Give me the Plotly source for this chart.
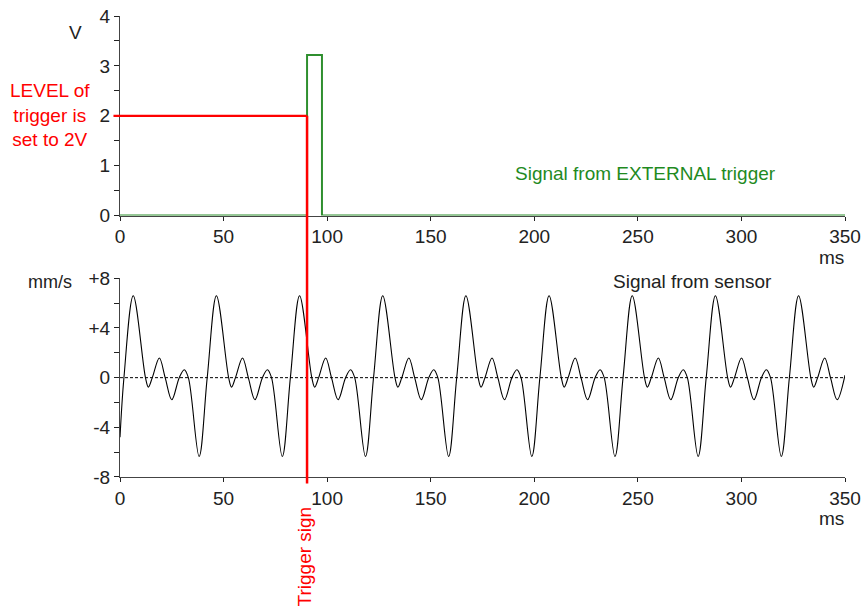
import plotly.graph_objects as go

# ---------------- data ----------------
# External trigger signal (V) vs time (ms)
trigger_t = [0, 90.3, 90.3, 97.5, 97.5, 350]
trigger_v = [0, 0, 3.22, 3.22, 0, 0]

trigger_level = 2.0      # V
trigger_time = 90.3      # ms

# Sensor signal (mm/s) vs time (ms): read extrema and zero crossings
sensor_t = [
    0, 1.9, 6.4, 12.3, 13.7, 15.6, 19.0, 21.8, 25.0, 28.6, 31.0, 33.0, 38.2, 42.1,
    46.55, 52.45, 53.85, 55.75, 59.15, 61.95, 65.15, 68.75, 71.15, 73.15, 78.35, 82.25,
    86.7, 92.6, 94.0, 95.9, 99.3, 102.1, 105.3, 108.9, 111.3, 113.3, 118.5, 122.4,
    126.85, 132.75, 134.15, 136.05, 139.45, 142.25, 145.45, 149.05, 151.45, 153.45, 158.65, 162.55,
    167.0, 172.9, 174.3, 176.2, 179.6, 182.4, 185.6, 189.2, 191.6, 193.6, 198.8, 202.7,
    207.15, 213.05, 214.45, 216.35, 219.75, 222.55, 225.75, 229.35, 231.75, 233.75, 238.95, 242.85,
    247.3, 253.2, 254.6, 256.5, 259.9, 262.7, 265.9, 269.5, 271.9, 273.9, 279.1, 283.0,
    287.45, 293.35, 294.75, 296.65, 300.05, 302.85, 306.05, 309.65, 312.05, 314.05, 319.25, 323.15,
    327.6, 333.5, 334.9, 336.8, 340.2, 343.0, 346.2, 350.0,
]
sensor_v = [
    -4.8, 0, 6.6, 0, -0.76, 0, 1.58, 0, -1.78, 0, 0.64, 0, -6.35, 0,
    6.6, 0, -0.76, 0, 1.58, 0, -1.78, 0, 0.64, 0, -6.35, 0,
    6.6, 0, -0.76, 0, 1.58, 0, -1.78, 0, 0.64, 0, -6.35, 0,
    6.6, 0, -0.76, 0, 1.58, 0, -1.78, 0, 0.64, 0, -6.35, 0,
    6.6, 0, -0.76, 0, 1.58, 0, -1.78, 0, 0.64, 0, -6.35, 0,
    6.6, 0, -0.76, 0, 1.58, 0, -1.78, 0, 0.64, 0, -6.35, 0,
    6.6, 0, -0.76, 0, 1.58, 0, -1.78, 0, 0.64, 0, -6.35, 0,
    6.6, 0, -0.76, 0, 1.58, 0, -1.78, 0, 0.64, 0, -6.35, 0,
    6.6, 0, -0.76, 0, 1.58, 0, -1.78, 0.2,
]

x_ticks = [0, 50, 100, 150, 200, 250, 300, 350]
v_ticks = [0, 1, 2, 3, 4]
s_ticks = [-8, -4, 0, 4, 8]
s_ticktext = ["-8", "-4", "0", "+4", "+8"]

# ---------------- layout constants ----------------
X_RANGE = [0, 350]
V_RANGE = [0, 4]
S_RANGE = [-8, 8]
TOP_DOM = [0.567, 1.0]
BOT_DOM = [0.0, 0.431]

FONT = "Liberation Sans, Arial, sans-serif"
RED = "#ff0000"
GREEN = "#2f8f2f"
FS = 19

fig = go.Figure()

fig.add_trace(go.Scatter(
    x=trigger_t, y=trigger_v, mode="lines",
    line=dict(color=GREEN, width=2),
    xaxis="x", yaxis="y", showlegend=False, hoverinfo="skip",
))

fig.add_trace(go.Scatter(
    x=[X_RANGE[0], X_RANGE[1]], y=[0, 0], mode="lines",
    line=dict(color="black", width=1, dash="3px,2px"),
    xaxis="x2", yaxis="y2", showlegend=False, hoverinfo="skip",
))

fig.add_trace(go.Scatter(
    x=sensor_t, y=sensor_v, mode="lines",
    line=dict(color="black", width=1.1, shape="spline", smoothing=1.0),
    xaxis="x2", yaxis="y2", showlegend=False, hoverinfo="skip",
))

axis_common = dict(
    showgrid=False, zeroline=False, showline=True, linecolor="#444", linewidth=1,
    ticks="outside", tickcolor="#222", tickwidth=1, automargin=False,
    tickfont=dict(family=FONT, size=FS, color="#222"),
)

fig.update_layout(
    width=862, height=606,
    margin=dict(l=120, r=17, t=16, b=129),
    paper_bgcolor="white", plot_bgcolor="white",
    font=dict(family=FONT, size=FS, color="#222"),
    xaxis=dict(domain=[0, 1], range=X_RANGE, anchor="y", tickvals=x_ticks,
               ticklen=4, **axis_common),
    yaxis=dict(domain=TOP_DOM, range=V_RANGE, anchor="x", tickvals=v_ticks,
               ticklen=5, minor=dict(dtick=0.5, ticks="outside", ticklen=5, tickcolor="#222"),
               **axis_common),
    xaxis2=dict(domain=[0, 1], range=X_RANGE, anchor="y2", tickvals=x_ticks,
                ticklen=4, **axis_common),
    yaxis2=dict(domain=BOT_DOM, range=S_RANGE, anchor="x2", tickvals=s_ticks,
                ticktext=s_ticktext, ticklen=5,
                minor=dict(dtick=2, ticks="outside", ticklen=5, tickcolor="#222"),
                **axis_common),
)

# trigger level / trigger instant (red lines), positions derived from data + axes
level_paper_y = TOP_DOM[0] + (trigger_level - V_RANGE[0]) / (V_RANGE[1] - V_RANGE[0]) * (TOP_DOM[1] - TOP_DOM[0])
time_paper_x = (trigger_time - X_RANGE[0]) / (X_RANGE[1] - X_RANGE[0])

fig.add_shape(type="line", xref="paper", yref="paper",
              x0=-0.009, x1=time_paper_x, y0=level_paper_y, y1=level_paper_y,
              line=dict(color=RED, width=2.2), layer="above")
fig.add_shape(type="line", xref="paper", yref="paper",
              x0=time_paper_x, x1=time_paper_x, y0=level_paper_y, y1=-0.014,
              line=dict(color=RED, width=2.5), layer="above")

def ann(text, x, y, color="#222", size=FS, **kw):
    fig.add_annotation(text=text, x=x, y=y, xref="paper", yref="paper",
                       xanchor="center", yanchor="middle",
                       showarrow=False, font=dict(family=FONT, size=size, color=color), **kw)

ann("V", -0.062, 0.965)
ann("mm/s", -0.096, 0.423, size=18)
ann("ms", 0.982, 0.476)
ann("ms", 0.982, -0.089)
ann("LEVEL of<br>trigger is<br>set to 2V", -0.097, 0.785, color=RED)
ann("Signal from EXTERNAL trigger", 0.7255, 0.659, color="#1f8a1f")
ann("Signal from sensor", 0.789, 0.423)
ann("Trigger sign", time_paper_x - 0.004, -0.172, color=RED, textangle=-90)

fig.write_html("out.html")
